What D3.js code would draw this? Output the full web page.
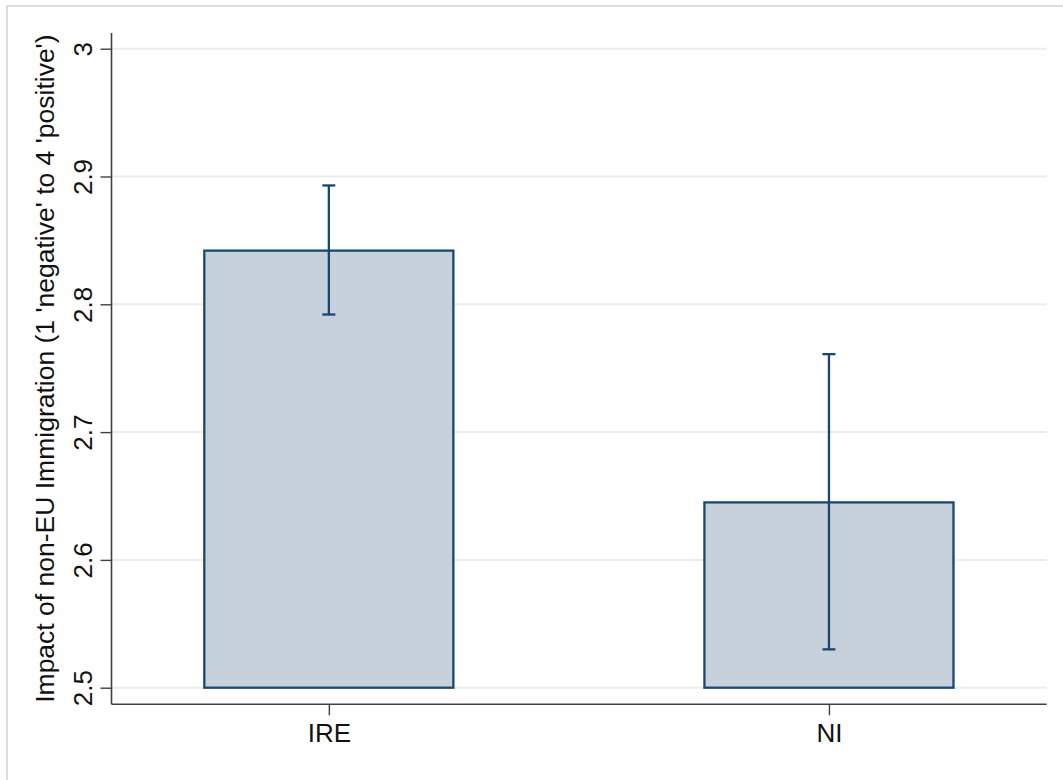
<!DOCTYPE html>
<html><head><meta charset="utf-8">
<script src="https://cdn.jsdelivr.net/npm/d3@7"></script>
<style>body{margin:0;background:#fff}svg{display:block}text{font-family:"Liberation Sans",Arial,sans-serif}</style>
</head><body>
<script>
const categories = ["IRE", "NI"];
const means = [2.842, 2.645];
const ciLow = [2.792, 2.530];
const ciHigh = [2.893, 2.761];
const yTicks = [2.5, 2.6, 2.7, 2.8, 2.9, 3];
const yTitle = "Impact of non-EU Immigration (1 'negative' to 4 'positive')";

const W = 1063, H = 780;
const svg = d3.select("body").append("svg").attr("width", W).attr("height", H);

// outer frame
svg.append("rect").attr("x", 7).attr("y", 6).attr("width", 1080).attr("height", 790)
  .attr("fill", "none").attr("stroke", "#dcdcdc").attr("stroke-width", 2);

const pL = 111.5, pR = 1046.7, pT = 33, pB = 704.3;
const y = d3.scaleLinear().domain([2.5, 3]).range([687.7, 48.7]);
const x = d3.scaleLinear().domain([0.5654, 2.4354]).range([pL, pR]);
const barW = x(1.498) - x(1);

// grid
svg.append("g").selectAll("line").data(yTicks).join("line")
  .attr("x1", pL).attr("x2", pR)
  .attr("y1", d => y(d)).attr("y2", d => y(d))
  .attr("stroke", "#ececec").attr("stroke-width", 2);

// bars
svg.append("g").selectAll("rect").data(categories).join("rect")
  .attr("x", (d, i) => x(i + 1) - barW / 2)
  .attr("y", (d, i) => y(means[i]))
  .attr("width", barW)
  .attr("height", (d, i) => y(2.5) - y(means[i]))
  .attr("fill", "#c6d1dc").attr("stroke", "#1a476f").attr("stroke-width", 2.3);

// error bars
const eb = svg.append("g").attr("stroke", "#1a476f").attr("stroke-width", 2.3);
categories.forEach((c, i) => {
  const cx = x(i + 1);
  eb.append("line").attr("x1", cx).attr("x2", cx).attr("y1", y(ciHigh[i])).attr("y2", y(ciLow[i]));
  eb.append("line").attr("x1", cx - 6.5).attr("x2", cx + 6.5).attr("y1", y(ciHigh[i])).attr("y2", y(ciHigh[i]));
  eb.append("line").attr("x1", cx - 6.5).attr("x2", cx + 6.5).attr("y1", y(ciLow[i])).attr("y2", y(ciLow[i]));
});

// y axis
const yAxis = d3.axisLeft(y).tickValues(yTicks).tickFormat(d3.format("")).tickSize(11).tickPadding(8);
const ga = svg.append("g").attr("transform", `translate(${pL},0)`).call(yAxis);
ga.select(".domain").attr("d", `M0,${pT}V${pB}`).attr("stroke", "#404040").attr("stroke-width", 1.6);
ga.selectAll(".tick line").attr("stroke", "#404040").attr("stroke-width", 1.4);
ga.selectAll(".tick text").attr("font-size", 26).attr("fill", "#111")
  .attr("font-family", "'Liberation Sans', Arial, sans-serif")
  .attr("x", 0).attr("y", 0).attr("dy", null).attr("text-anchor", "middle")
  .attr("transform", "translate(-20,0) rotate(-90)");

// x axis
const xAxis = d3.axisBottom(x).tickValues([1, 2]).tickFormat((d) => categories[d - 1]).tickSize(11).tickPadding(8);
const gx = svg.append("g").attr("transform", `translate(0,${pB})`).call(xAxis);
gx.select(".domain").attr("d", `M${pL},0H${pR}`).attr("stroke", "#404040").attr("stroke-width", 1.6);
gx.selectAll(".tick line").attr("stroke", "#404040").attr("stroke-width", 1.4);
gx.selectAll(".tick text").attr("font-size", 26).attr("fill", "#111")
  .attr("font-family", "'Liberation Sans', Arial, sans-serif");

// y title
svg.append("text").attr("transform", `translate(54,${(pT + pB) / 2}) rotate(-90)`)
  .attr("text-anchor", "middle").attr("font-size", 26.5).attr("fill", "#111").text(yTitle);
</script>
</body></html>
